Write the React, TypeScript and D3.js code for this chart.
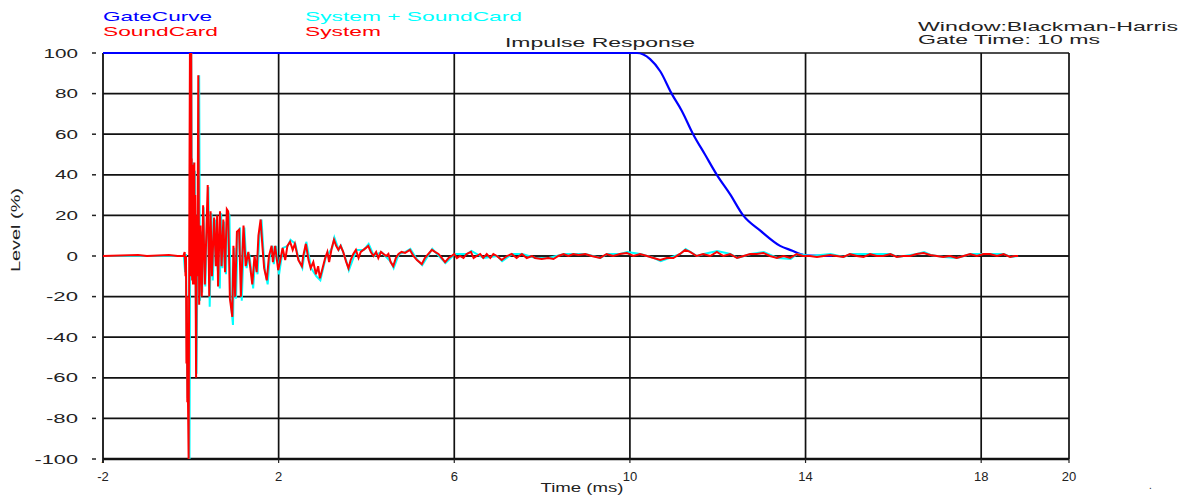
import React from 'react'
import * as d3 from 'd3'

// time (ms), level (%)
const system: [number, number][] = [
  [-2, 0], [-1.2, 0.5], [-1.0, 0], [-0.5, 0.5], [-0.3, 0], [-0.17, 0],
  [-0.14, 2], [-0.12, -10], [-0.11, 0], [-0.10, -53], [-0.09, -20], [-0.08, -72],
  [-0.07, -60], [-0.05, -100], [-0.03, 45], [-0.02, 100], [0.0, -10], [0.01, 100],
  [0.015, 30], [0.02, 48], [0.025, -5], [0.03, -12], [0.035, 40], [0.04, 45],
  [0.045, -10], [0.05, -14], [0.055, 35], [0.06, 40], [0.065, -12], [0.07, -8],
  [0.075, 44], [0.08, 46], [0.085, -10], [0.09, -14], [0.095, 28], [0.10, 30],
  [0.12, -60], [0.14, 20], [0.15, -10],
  [0.17, 89], [0.19, -24], [0.22, 15], [0.25, -20], [0.28, 25], [0.32, -14],
  [0.385, 35], [0.42, -20], [0.45, 22], [0.48, -10], [0.53, 19], [0.57, -5],
  [0.60, 20], [0.62, -15], [0.665, 22], [0.70, -5], [0.74, 18], [0.78, -8],
  [0.82, 23], [0.85, 22], [0.89, -21], [0.945, -30], [0.97, 5], [1.01, -20],
  [1.05, 12], [1.10, 13], [1.14, -20], [1.20, 15], [1.25, -5], [1.31, 2],
  [1.35, -5], [1.40, -14], [1.45, 0], [1.50, -8], [1.54, 10], [1.59, 18],
  [1.63, 5], [1.67, -6], [1.73, -12], [1.78, 0], [1.84, 5], [1.87, -3],
  [1.92, 5], [1.99, -7], [2.03, -3], [2.09, 4], [2.15, -2], [2.20, 5],
  [2.26, 7], [2.32, 3], [2.37, 6], [2.45, -2], [2.53, -5], [2.56, 0],
  [2.62, 6], [2.68, -2], [2.73, -6], [2.79, -3], [2.85, -9], [2.90, -5],
  [2.94, -11], [3.00, -6], [3.06, -1], [3.11, 2], [3.15, -3], [3.21, 4],
  [3.26, 8], [3.31, 5], [3.36, 3], [3.41, 5], [3.47, 2], [3.54, -3],
  [3.59, -6], [3.64, -2], [3.70, 1], [3.76, 3], [3.82, -1], [3.87, 2],
  [3.93, 3], [3.99, 4], [4.04, 5], [4.10, 2], [4.16, 0], [4.22, 2],
  [4.27, -1], [4.33, 2], [4.39, 1], [4.45, 0], [4.50, 1], [4.55, -3],
  [4.61, -5], [4.67, -1], [4.73, 1], [4.80, 2], [4.88, 1.5], [4.99, 3],
  [5.07, 0], [5.15, -2], [5.26, -4], [5.33, -1], [5.41, 1], [5.49, 3],
  [5.56, 2], [5.64, 1], [5.72, -1], [5.79, -3], [5.87, -1], [5.94, 0],
  [6.00, 1], [6.06, -1], [6.13, 0], [6.21, -1], [6.28, 1], [6.38, 2],
  [6.44, -1], [6.51, 0], [6.59, 1], [6.66, -1], [6.74, 1], [6.82, -1],
  [6.89, 1], [6.97, 0], [7.08, -2], [7.20, 0], [7.31, 1], [7.42, -1],
  [7.54, 1], [7.65, -1], [7.77, 0], [7.84, -1], [7.99, -1.5], [8.14, -1],
  [8.26, -1.5], [8.37, 0], [8.49, 1], [8.60, 0], [8.71, 1], [8.83, 0.5],
  [8.98, 1], [9.13, 0], [9.32, -1], [9.47, 1], [9.62, 0], [9.77, 1],
  [9.93, 1.5], [10.08, 0], [10.23, 1], [10.39, 0], [10.54, -1], [10.69, -2],
  [10.84, -1], [10.99, -1], [11.14, 1], [11.26, 3], [11.37, 2], [11.52, 0],
  [11.67, 1], [11.83, 0], [11.98, 2], [12.13, 0], [12.28, 1], [12.44, -1],
  [12.59, 0], [12.74, 1], [12.89, 1], [13.04, 1.5], [13.19, 0], [13.35, -1],
  [13.50, 0], [13.65, -1], [13.80, 1], [13.95, 0], [14.10, 0], [14.26, -0.5],
  [14.41, 0], [14.56, 0.5], [14.71, 0], [14.86, -0.5], [15.01, 1], [15.17, 0],
  [15.32, -0.5], [15.47, 1], [15.62, 0], [15.77, 0], [15.93, 1], [16.08, -0.5],
  [16.23, 0], [16.38, 0], [16.53, 1], [16.69, 1.5], [16.84, 0.5], [16.99, 0],
  [17.14, -0.5], [17.29, 0], [17.44, -1], [17.60, 0], [17.75, 1], [17.90, 0],
  [18.05, 1], [18.20, 1], [18.36, 0], [18.51, 1], [18.66, -0.5], [18.77, 0],
  [18.84, 0],
]

const systemSoundCard: [number, number][] = [
  [-2, 0], [-0.16, 0], [-0.13, -8], [-0.11, 1], [-0.09, -50], [-0.07, -70],
  [-0.05, -58], [-0.03, -100], [-0.01, 40], [0.01, 100], [0.03, -8], [0.05, 46],
  [0.07, -12], [0.09, 42], [0.11, -14], [0.13, -58], [0.16, 22], [0.19, 89],
  [0.21, -22], [0.23, 12], [0.26, -18], [0.29, 24], [0.33, -15], [0.40, 34],
  [0.43, -25], [0.47, 21], [0.50, -12], [0.55, 18], [0.61, -6], [0.66, -16],
  [0.69, 21], [0.72, -6], [0.76, 17], [0.80, -9], [0.84, 22], [0.88, 20],
  [0.91, -22], [0.96, -34], [0.99, 4], [1.03, -21], [1.07, 11], [1.12, 14],
  [1.16, -22], [1.22, 14], [1.27, -6], [1.33, 1], [1.37, -6], [1.42, -16],
  [1.47, 0], [1.52, -9], [1.56, 9], [1.61, 18], [1.65, 4], [1.69, -7],
  [1.75, -14], [1.80, 0], [1.86, 5], [1.89, -4], [1.94, 5], [2.01, -9],
  [2.10, 4], [2.21, 5], [2.27, 8], [2.38, 6], [2.46, -2], [2.54, -6],
  [2.63, 7], [2.74, -6], [2.86, -10], [2.95, -12], [3.07, -1], [3.22, 4],
  [3.27, 9], [3.37, 3], [3.42, 5], [3.55, -3], [3.60, -7], [3.77, 3],
  [3.94, 3], [4.05, 6], [4.17, 0], [4.34, 2], [4.56, -3], [4.62, -6],
  [4.74, 1], [4.89, 2], [5.00, 3.5], [5.16, -2], [5.27, -4.5], [5.50, 3.5],
  [5.80, -3.5], [6.01, 1], [6.29, 1], [6.39, 2.5], [6.67, -1], [6.98, 0],
  [7.09, -2.5], [7.32, 1], [7.55, 1], [7.85, -1], [8.15, -1], [8.50, 1],
  [8.72, 1], [8.99, 1], [9.33, -1], [9.48, 1], [9.78, 1], [9.94, 2],
  [10.24, 1], [10.55, -1], [10.70, -2.5], [11.15, 1], [11.27, 3.5], [11.53, 0],
  [11.68, 1], [11.99, 2.5], [12.29, 1], [12.45, -1], [12.75, 1], [13.05, 2],
  [13.36, -1], [13.66, -1.5], [13.81, 1], [14.11, 0], [14.57, 1], [14.87, -0.5],
  [15.02, 1], [15.48, 1], [15.94, 1], [16.09, -0.5], [16.54, 1], [16.70, 2],
  [16.85, 0.5], [17.15, -0.5], [17.45, -1], [17.76, 1], [18.06, 1], [18.21, 1],
  [18.52, 1], [18.67, -0.5], [18.84, 0],
]

const gateCurve: [number, number][] = [
  [-2, 100], [10.0, 100], [10.16, 100], [10.46, 97], [10.69, 91], [10.95, 80],
  [11.18, 71.6], [11.44, 60], [11.71, 50], [11.98, 40], [12.28, 30.5], [12.58, 20],
  [12.97, 12.5], [13.42, 5], [13.7, 2.6], [13.88, 1], [14.0, 0.3], [14.6, 0],
]

const xTickValues = [-2, 2, 6, 10, 14, 18, 20]
const xGridValues = [2, 6, 10, 14, 18]
const yTickValues = [-100, -80, -60, -40, -20, 0, 20, 40, 60, 80, 100]

const W = 1186
const H = 495
const FONT = '"Liberation Sans", Arial, sans-serif'

export default function App() {
  const x = d3.scaleLinear().domain([-2, 20]).range([103, 1069])
  const y = d3.scaleLinear().domain([-100, 100]).range([459, 53])

  const line = d3.line<[number, number]>()
    .x(d => x(d[0]))
    .y(d => y(d[1]))

  const gateLine = d3.line<[number, number]>()
    .x(d => x(d[0]))
    .y(d => y(d[1]))
    .curve(d3.curveMonotoneX)

  const labelLen = (s: string) => {
    let n = 0
    for (const c of s) n += c === '-' ? 9 : 11.5
    return n
  }

  return (
    <svg width={W} height={H} style={{ position: 'absolute', left: 0, top: 0, background: '#fff' }}
      fontFamily={FONT}>
      {/* grid */}
      {yTickValues.map(v => (
        <line key={'gy' + v} x1={x(-2)} x2={x(20)} y1={y(v)} y2={y(v)} stroke="#111" strokeWidth={1.7} />
      ))}
      {xGridValues.map(v => (
        <line key={'gx' + v} x1={x(v)} x2={x(v)} y1={y(100)} y2={y(-100)} stroke="#111" strokeWidth={1.7} />
      ))}
      <line x1={x(20)} x2={x(20)} y1={y(100)} y2={y(-100)} stroke="#111" strokeWidth={1.7} />
      <line x1={x(-2)} x2={x(-2)} y1={y(100)} y2={y(-100) + 4} stroke="#111" strokeWidth={1.8} />
      <line x1={x(-2)} x2={x(20)} y1={y(-100)} y2={y(-100)} stroke="#111" strokeWidth={2.4} />
      <line x1={x(-2)} x2={x(20)} y1={y(0)} y2={y(0)} stroke="#111" strokeWidth={1.7} />

      {/* y ticks */}
      {yTickValues.map(v => (
        <g key={'ty' + v}>
          <line x1={92} x2={96} y1={y(v)} y2={y(v)} stroke="#222" strokeWidth={1.5} />
          <text x={78} y={y(v) + 4.5} textAnchor="end" fontSize={12} fill="#222"
            textLength={labelLen(String(v))} lengthAdjust="spacingAndGlyphs">{v}</text>
        </g>
      ))}
      {/* x ticks */}
      {xTickValues.map(v => (
        <g key={'tx' + v}>
          <line x1={x(v)} x2={x(v)} y1={y(-100)} y2={y(-100) + 4} stroke="#222" strokeWidth={1.2} />
          <text x={x(v)} y={481} textAnchor="middle" fontSize={13} fill="#222">{v}</text>
        </g>
      ))}
      <text x={101} y={463} fontSize={10} fill="#222">.</text>

      {/* series */}
      <path d={gateLine(gateCurve) ?? ''} fill="none" stroke="#0000ff" strokeWidth={2.2} />
      <path d={line(systemSoundCard) ?? ''} fill="none" stroke="#00ffff" strokeWidth={2} strokeLinejoin="miter" />
      <path d={line(system) ?? ''} fill="none" stroke="#ff0000" strokeWidth={2} strokeLinejoin="miter" />

      {/* axis titles */}
      <text x={582} y={492} textAnchor="middle" fontSize={13} fill="#222"
        textLength={83} lengthAdjust="spacingAndGlyphs">Time (ms)</text>
      <text transform="translate(20,230) rotate(-90)" textAnchor="middle" fontSize={12} fill="#222"
        textLength={84} lengthAdjust="spacingAndGlyphs">Level (%)</text>
      <text x={600} y={47} textAnchor="middle" fontSize={13} fill="#222"
        textLength={190} lengthAdjust="spacingAndGlyphs">Impulse Response</text>

      {/* legend */}
      <text x={103} y={21} fontSize={13} fill="#0000ff" textLength={109} lengthAdjust="spacingAndGlyphs">GateCurve</text>
      <text x={103} y={36} fontSize={13} fill="#ff0000" textLength={115} lengthAdjust="spacingAndGlyphs">SoundCard</text>
      <text x={305} y={21} fontSize={13} fill="#00ffff" textLength={217} lengthAdjust="spacingAndGlyphs">System + SoundCard</text>
      <text x={305} y={36} fontSize={13} fill="#ff0000" textLength={76} lengthAdjust="spacingAndGlyphs">System</text>

      {/* window info */}
      <text x={918} y={31} fontSize={12} fill="#222" textLength={260} lengthAdjust="spacingAndGlyphs">Window:Blackman-Harris</text>
      <text x={918} y={44} fontSize={12} fill="#222" textLength={182} lengthAdjust="spacingAndGlyphs">Gate Time: 10 ms</text>

      <text x={1149} y={489} fontSize={10} fill="#222">.</text>
    </svg>
  )
}
